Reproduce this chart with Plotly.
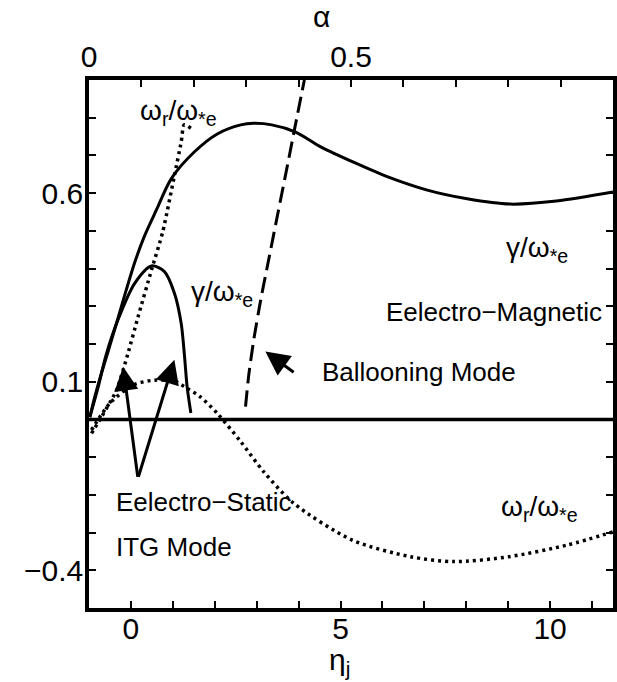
import plotly.graph_objects as go

# ---- data ----
# electromagnetic growth rate gamma/omega*e vs eta_j (solid, large)
eta_em = [-0.98, -0.86, -0.74, -0.55, -0.31, -0.12, 0.09, 0.33, 0.61, 0.96, 1.51, 2.06,
          2.62, 2.93, 3.36, 3.93, 4.54, 5.35, 6.13, 7.07, 8.02, 9.04, 10.15, 11.5]
gam_em = [0.006, 0.061, 0.109, 0.178, 0.268, 0.340, 0.416, 0.488, 0.556, 0.638, 0.709, 0.757,
          0.781, 0.785, 0.781, 0.762, 0.722, 0.680, 0.643, 0.608, 0.585, 0.571, 0.579, 0.603]

# electrostatic ITG growth rate (solid hump)
eta_es = [-0.98, -0.78, -0.60, -0.31, 0.09, 0.49, 0.80, 1.04, 1.20, 1.28, 1.34, 1.43]
gam_es = [0.006, 0.086, 0.168, 0.264, 0.361, 0.407, 0.392, 0.334, 0.254, 0.166, 0.087, 0.017]

# electrostatic real frequency omega_r/omega*e (dotted, steep)
eta_wes = [-0.94, -0.70, -0.38, -0.31, -0.07, 0.17, 0.49, 0.76, 1.04, 1.20, 1.27, 1.43]
w_es = [-0.037, 0.007, 0.069, 0.087, 0.175, 0.272, 0.396, 0.498, 0.648, 0.736, 0.781, 0.772]

# electromagnetic real frequency omega_r/omega*e (dotted, wavy)
eta_wem = [-0.94, -0.50, 0.05, 0.56, 1.08, 1.27, 1.63, 2.06, 2.62, 3.17, 3.88, 5.28,
           6.67, 7.71, 9.02, 10.41, 11.5]
w_em = [-0.028, 0.043, 0.091, 0.104, 0.100, 0.087, 0.062, 0.016, -0.059, -0.139, -0.222,
        -0.320, -0.364, -0.377, -0.364, -0.333, -0.298]

# ballooning mode growth rate vs alpha (dashed, top axis)
alpha_bm = [0.2987, 0.3049, 0.3144, 0.3277, 0.3428, 0.3598, 0.3769, 0.3939, 0.4110]
gam_bm = [0.034, 0.118, 0.211, 0.317, 0.423, 0.542, 0.661, 0.781, 0.900]

# zero reference line
eta_zero = [-1.0, 11.5]
val_zero = [0.0, 0.0]

FONT = "Liberation Sans"
BLACK = "black"

fig = go.Figure()
fig.add_trace(go.Scatter(x=eta_zero, y=val_zero, mode="lines",
                         line=dict(color=BLACK, width=3.5), hoverinfo="skip"))
fig.add_trace(go.Scatter(x=eta_em, y=gam_em, mode="lines",
                         line=dict(color=BLACK, width=3, shape="spline", smoothing=0.8)))
fig.add_trace(go.Scatter(x=eta_es, y=gam_es, mode="lines",
                         line=dict(color=BLACK, width=3, shape="spline", smoothing=0.8)))
fig.add_trace(go.Scatter(x=eta_wes, y=w_es, mode="lines",
                         line=dict(color=BLACK, width=3.5, dash="3px,4px", shape="spline", smoothing=0.6)))
fig.add_trace(go.Scatter(x=eta_wem, y=w_em, mode="lines",
                         line=dict(color=BLACK, width=3.5, dash="3px,4px", shape="spline", smoothing=0.8)))
fig.add_trace(go.Scatter(x=alpha_bm, y=gam_bm, mode="lines", xaxis="x2",
                         line=dict(color=BLACK, width=3, dash="16px,7px", shape="spline", smoothing=0.6)))

tick_common = dict(ticks="inside", ticklen=7, tickwidth=1.5, tickcolor=BLACK,
                   showline=True, linewidth=3.5, linecolor=BLACK, showgrid=False,
                   zeroline=False, tickfont=dict(family=FONT, size=30, color=BLACK))
minor_common = dict(ticks="inside", ticklen=7, tickwidth=1.5, tickcolor=BLACK, showgrid=False)

fig.update_layout(
    width=617, height=682,
    margin=dict(l=89, r=0, t=80, b=74),
    paper_bgcolor="white", plot_bgcolor="white",
    showlegend=False,
    font=dict(family=FONT, color=BLACK),
    xaxis=dict(range=[-1, 11.5], tickmode="linear", tick0=0, dtick=5,
               minor=dict(dtick=1, tick0=0, **minor_common), ticklabelstandoff=-9, **tick_common),
    xaxis2=dict(range=[0, 1], overlaying="x", side="top", anchor="y", tickmode="linear",
                tick0=0, dtick=0.5, minor=dict(dtick=0.1, tick0=0, **minor_common),
                ticklabelstandoff=-3, **tick_common),
    yaxis=dict(range=[-0.5, 0.9], tickmode="linear", tick0=-0.4, dtick=0.5, mirror="ticks",
               minor=dict(dtick=0.1, tick0=-0.4, **minor_common), ticklabelstandoff=-4,
               **tick_common),
)

ann_font = dict(family=FONT, size=26, color=BLACK)
greek_font = dict(family=FONT, size=28, color=BLACK)
W = "ω<sub>r</sub>/ω<sub>*e</sub>"
G = "γ/ω<sub>*e</sub>"
texts = [
    (0.16, 0.815, W, "left", greek_font),
    (1.39, 0.335, G, "left", greek_font),
    (8.90, 0.450, G, "left", greek_font),
    (11.29, 0.285, "Eelectro−Magnetic", "right", ann_font),
    (4.51, 0.126, "Ballooning Mode", "left", ann_font),
    (-0.40, -0.219, "Eelectro−Static", "left", ann_font),
    (-0.40, -0.338, "ITG Mode", "left", ann_font),
    (8.78, -0.236, W, "left", greek_font),
]
for x, y, t, xa, f in texts:
    fig.add_annotation(x=x, y=y, xref="x", yref="y", text=t, showarrow=False,
                       xanchor=xa, yanchor="middle", font=f)

arrows = [
    (3.208, 0.180, 3.918, 0.122),
    (-0.187, 0.140, 0.168, -0.156),
    (1.037, 0.158, 0.168, -0.156),
]
for x, y, ax, ay in arrows:
    fig.add_annotation(x=x, y=y, ax=ax, ay=ay, xref="x", yref="y", axref="x", ayref="y",
                       text="", showarrow=True, arrowhead=2, arrowsize=1.6,
                       arrowwidth=3, arrowcolor=BLACK)

# axis titles
fig.add_annotation(x=0.443, y=1.12, xref="paper", yref="paper", text="α",
                   showarrow=False, font=dict(family=FONT, size=30, color=BLACK),
                   xanchor="center", yanchor="middle")
fig.add_annotation(x=0.479, y=-0.102, xref="paper", yref="paper", text="η<sub>j</sub>",
                   showarrow=False, font=dict(family=FONT, size=30, color=BLACK),
                   xanchor="center", yanchor="middle")

fig.write_html("out.html")
